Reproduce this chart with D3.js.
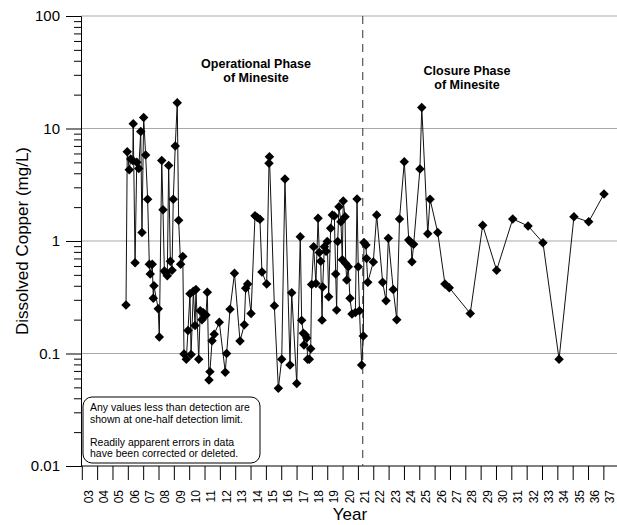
<!DOCTYPE html>
<html>
<head>
<meta charset="utf-8">
<script src="https://cdn.jsdelivr.net/npm/d3@7"></script>
<style>
  body { margin: 0; background: white; }
  text { font-family: Arial, "Liberation Sans", sans-serif; }
</style>
</head>
<body>
<div id="canvas"></div>
<script>
var width = 617;
var height = 525;

// sample dates (decimal year) and dissolved copper (mg/L)
const sampleYears = [
  2005.85, 2005.93, 2006.06, 2006.16, 2006.29, 2006.32, 2006.44, 2006.55, 2006.68, 2006.81,
  2006.89, 2007.00, 2007.13, 2007.26, 2007.37, 2007.43, 2007.56, 2007.63, 2007.67, 2007.95,
  2008.02, 2008.18, 2008.26, 2008.35, 2008.46, 2008.54, 2008.63, 2008.74, 2008.85, 2008.93,
  2009.06, 2009.19, 2009.28, 2009.41, 2009.55, 2009.63, 2009.78, 2009.89, 2010.02, 2010.09,
  2010.24, 2010.35, 2010.41, 2010.59, 2010.69, 2010.80, 2010.89, 2010.98, 2011.06, 2011.15,
  2011.26, 2011.32, 2011.46, 2011.60, 2011.93, 2012.32, 2012.41, 2012.63, 2012.92, 2013.28,
  2013.56, 2013.65, 2013.78, 2014.00, 2014.26, 2014.41, 2014.58, 2014.71, 2015.02, 2015.17,
  2015.20, 2015.52, 2015.78, 2016.00, 2016.21, 2016.54, 2016.65, 2016.98, 2017.21, 2017.30,
  2017.41, 2017.45, 2017.54, 2017.63, 2017.69, 2017.80, 2017.89, 2017.95, 2018.08, 2018.23,
  2018.37, 2018.45, 2018.54, 2018.63, 2018.67, 2018.78, 2018.89, 2018.97, 2019.06, 2019.19,
  2019.30, 2019.43, 2019.52, 2019.58, 2019.65, 2019.73, 2019.86, 2019.95, 2020.01, 2020.13,
  2020.17, 2020.24, 2020.34, 2020.45, 2020.58, 2020.80, 2020.91, 2020.99, 2021.07, 2021.21,
  2021.32, 2021.36, 2021.49, 2021.53, 2021.61, 2021.97, 2022.19, 2022.58, 2022.80, 2022.95,
  2023.27, 2023.50, 2023.68, 2023.99, 2024.28, 2024.43, 2024.49, 2024.60, 2025.01, 2025.13,
  2025.52, 2025.67, 2026.17, 2026.64, 2026.92, 2028.29, 2029.10, 2030.01, 2031.06, 2032.06,
  2033.03, 2034.08, 2035.05, 2036.01, 2037.01
];
const copper = [
  0.27, 6.2, 4.3, 5.35, 5.2, 11.0, 0.64, 5.0, 4.4, 9.4,
  1.19, 12.5, 5.8, 2.35, 0.62, 0.51, 0.62, 0.31, 0.40, 0.25,
  0.14, 5.2, 1.9, 0.54, 0.52, 0.49, 4.7, 0.66, 0.55, 2.35,
  7.0, 16.9, 1.53, 0.62, 0.73, 0.099, 0.089, 0.16, 0.34, 0.098,
  0.357, 0.177, 0.37, 0.089, 0.24, 0.2, 0.23, 0.22, 0.22, 0.35,
  0.058, 0.069, 0.13, 0.148, 0.19, 0.068, 0.1, 0.247, 0.516, 0.129,
  0.18, 0.38, 0.415, 0.227, 1.68, 1.62, 1.56, 0.53, 0.415, 4.9,
  5.6, 0.266, 0.049, 0.089, 3.56, 0.079, 0.347, 0.054, 1.09, 0.197,
  0.151, 0.119, 0.146, 0.137, 0.089, 0.089, 0.11, 0.41, 0.89, 0.42,
  1.59, 0.79, 0.66, 0.198, 0.39, 0.89, 0.81, 0.99, 0.32, 1.3,
  1.7, 1.67, 0.51, 0.243, 0.99, 2.02, 1.48, 0.68, 2.27, 1.64,
  0.63, 0.45, 0.59, 0.31, 0.224, 0.232, 2.36, 0.59, 0.24, 0.079,
  0.143, 0.97, 0.92, 0.70, 0.43, 0.65, 1.70, 0.43, 0.295, 1.06,
  0.37, 0.2, 1.57, 5.07, 1.02, 0.97, 0.655, 0.935, 4.37, 15.4,
  1.16, 2.35, 1.19, 0.415, 0.385, 0.227, 1.38, 0.55, 1.57, 1.36,
  0.966, 0.089, 1.64, 1.48, 2.62
];

const yearTicks = d3.range(2003, 2038);
const decadeTicks = [0.01, 0.1, 1, 10, 100];
const closureStart = 2021.28;

const noteLines = [
  "Any values less than detection are",
  "shown at one-half detection limit.",
  "",
  "Readily apparent errors in data",
  "have been corrected or deleted."
];

const data = sampleYears.map((yr, i) => ({ year: yr, value: copper[i] }));

var svg = d3.select("#canvas").append("svg")
  .attr("width", width)
  .attr("height", height)
  .style("background-color", "white");

const plotLeft = 81, plotTop = 16, plotBottom = 466;

const x = d3.scaleLinear()
  .domain([2003, 2038])
  .range([82.3, 82.3 + 35 * 15.34]);

const y = d3.scaleLog()
  .domain([0.01, 100])
  .range([plotBottom, plotTop]);

// horizontal grid at each decade
svg.append("g")
  .selectAll("line")
  .data(decadeTicks.slice(1))
  .enter().append("line")
  .attr("x1", plotLeft).attr("x2", width)
  .attr("y1", d => y(d)).attr("y2", d => y(d))
  .attr("stroke", "#a9a9a9")
  .attr("stroke-width", 1);

// y axis: major ticks with labels, minor ticks between
const minorTicks = [];
decadeTicks.slice(0, -1).forEach(d => {
  for (let k = 2; k <= 9; k++) minorTicks.push(d * k);
});

const yAxis = svg.append("g")
  .attr("transform", `translate(${plotLeft},0)`)
  .call(d3.axisLeft(y).tickValues(decadeTicks).tickSize(15).tickPadding(6)
    .tickFormat(d => d >= 1 ? d3.format("d")(d) : String(d)));
yAxis.select(".domain").attr("stroke", "#000");
yAxis.selectAll("text").style("font-size", "15px").attr("fill", "#000");

svg.append("g")
  .attr("transform", `translate(${plotLeft},0)`)
  .call(d3.axisLeft(y).tickValues(minorTicks).tickSize(7).tickFormat(""))
  .select(".domain").remove();

// x axis: ticks at year boundaries, labels just after each tick
svg.append("line")
  .attr("x1", plotLeft).attr("x2", width)
  .attr("y1", plotBottom).attr("y2", plotBottom)
  .attr("stroke", "#000");

svg.append("g")
  .selectAll("line")
  .data(yearTicks)
  .enter().append("line")
  .attr("x1", d => x(d)).attr("x2", d => x(d))
  .attr("y1", plotBottom).attr("y2", plotBottom + 14)
  .attr("stroke", "#000");

svg.append("g")
  .selectAll("text")
  .data(yearTicks)
  .enter().append("text")
  .attr("transform", d => `translate(${x(d + 0.4)},${490}) rotate(-90)`)
  .attr("text-anchor", "end")
  .attr("dy", "0.36em")
  .style("font-size", "12px")
  .text(d => d3.format("02d")(d % 100));

// axis titles
svg.append("text")
  .attr("x", 350).attr("y", 520)
  .attr("text-anchor", "middle")
  .style("font-size", "17px")
  .text("Year");

svg.append("text")
  .attr("transform", `translate(28,${(plotTop + plotBottom) / 2}) rotate(-90)`)
  .attr("text-anchor", "middle")
  .style("font-size", "17px")
  .text("Dissolved Copper (mg/L)");

// phase divider
svg.append("line")
  .attr("x1", x(closureStart)).attr("x2", x(closureStart))
  .attr("y1", plotTop).attr("y2", plotBottom)
  .attr("stroke", "#555")
  .attr("stroke-width", 1.2)
  .attr("stroke-dasharray", "8,6");

// phase labels
const phaseLabels = [
  { lines: ["Operational Phase", "of Minesite"], cx: 256, y0: 68 },
  { lines: ["Closure Phase", "of Minesite"], cx: 467, y0: 75 }
];
phaseLabels.forEach(p => {
  svg.append("text")
    .attr("text-anchor", "middle")
    .style("font-size", "12.5px")
    .style("font-weight", "bold")
    .selectAll("tspan")
    .data(p.lines)
    .enter().append("tspan")
    .attr("x", p.cx)
    .attr("y", (d, i) => p.y0 + i * 14)
    .text(d => d);
});

// data line and diamond markers
const line = d3.line()
  .x(d => x(d.year))
  .y(d => y(d.value));

svg.append("path")
  .datum(data)
  .attr("d", line)
  .attr("fill", "none")
  .attr("stroke", "#111")
  .attr("stroke-width", 1);

const diamond = d3.symbol().type(d3.symbolSquare).size(45);
svg.append("g")
  .selectAll("path")
  .data(data)
  .enter().append("path")
  .attr("d", diamond)
  .attr("transform", d => `translate(${x(d.year)},${y(d.value)}) rotate(45)`)
  .attr("fill", "#000");

// note box
svg.append("rect")
  .attr("x", 83).attr("y", 397)
  .attr("width", 177).attr("height", 66)
  .attr("rx", 9).attr("ry", 9)
  .attr("fill", "white")
  .attr("stroke", "#000");

svg.append("text")
  .style("font-size", "10.5px")
  .selectAll("tspan")
  .data(noteLines)
  .enter().append("tspan")
  .attr("x", 90)
  .attr("y", (d, i) => 411 + i * 11.5)
  .text(d => d);
</script>
</body>
</html>
